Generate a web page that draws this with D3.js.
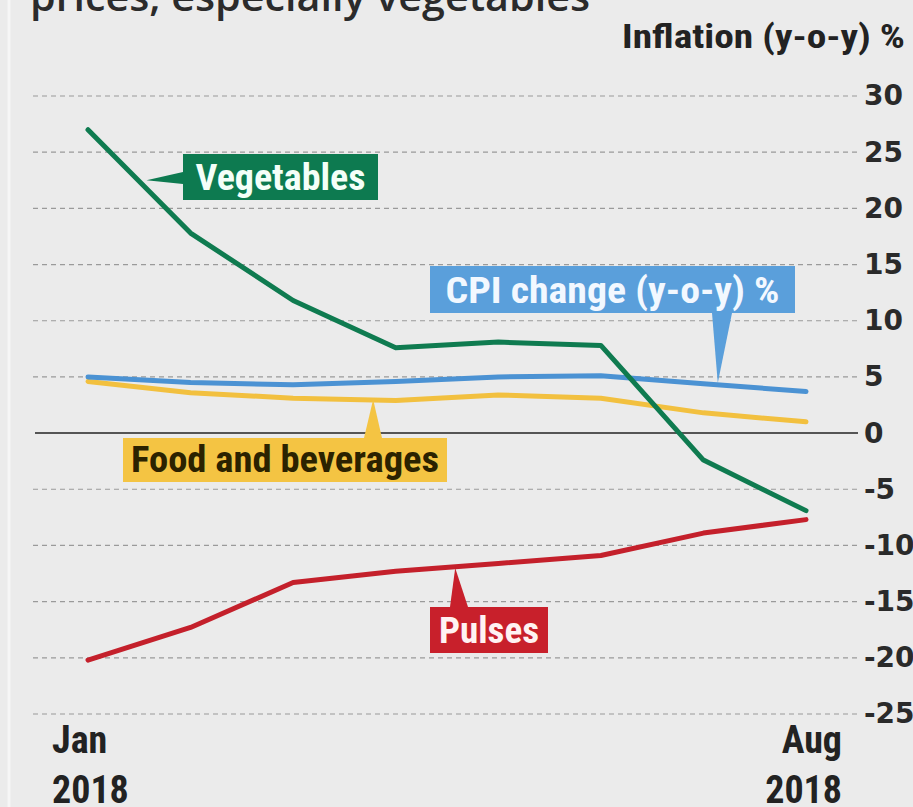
<!DOCTYPE html>
<html>
<head>
<meta charset="utf-8">
<script src="https://cdn.jsdelivr.net/npm/d3@7"></script>
<style>
  body { margin: 0; background: #ebebeb; }
  svg { display: block; }
  .cond { font-family: "Liberation Sans Narrow", "Roboto Condensed", "Liberation Sans", sans-serif; font-weight: bold; }
</style>
</head>
<body>
<div id="chart"></div>
<script>
var width = 913,
    height = 807;

// data
var months = ["Jan", "Feb", "Mar", "Apr", "May", "Jun", "Jul", "Aug"];
var vegetables = [27.0, 17.8, 11.8, 7.6, 8.1, 7.8, -2.4, -6.9];
var cpi = [5.0, 4.5, 4.3, 4.6, 5.0, 5.1, 4.4, 3.7];
var food = [4.6, 3.6, 3.1, 2.9, 3.4, 3.1, 1.8, 1.0];
var pulses = [-20.2, -17.3, -13.3, -12.3, -11.6, -10.9, -8.9, -7.7];
var yTicks = [30, 25, 20, 15, 10, 5, 0, -5, -10, -15, -20, -25];

var series = [
  {name: "Food and beverages", values: food, color: "#f2c03f"},
  {name: "CPI change (y-o-y) %", values: cpi, color: "#4b92d3"},
  {name: "Pulses", values: pulses, color: "#c4202b"},
  {name: "Vegetables", values: vegetables, color: "#0f7b50"}
];

var x = d3.scalePoint()
    .domain(months)
    .range([88, 806]);

var y = d3.scaleLinear()
    .domain([-25, 30])
    .range([714, 96]);

// fractional month position for annotation tips
function xi(i) { return x(months[0]) + i * x.step(); }

var svg = d3.select("#chart").append("svg")
    .attr("width", width)
    .attr("height", height);

svg.append("rect")
    .attr("width", width)
    .attr("height", height)
    .attr("fill", "#ebebeb");

svg.append("line")
    .attr("x1", 9).attr("x2", 9)
    .attr("y1", 0).attr("y2", height)
    .attr("stroke", "#f6f6f6")
    .attr("stroke-width", 3);

// cut-off title at the top
svg.append("text")
    .attr("x", 30)
    .attr("y", 11)
    .attr("textLength", 560)
    .attr("lengthAdjust", "spacingAndGlyphs")
    .attr("font-family", "'Open Sans', sans-serif")
    .attr("font-weight", 600)
    .attr("font-size", 40)
    .attr("fill", "#2b2b2b")
    .text("prices, especially vegetables");

svg.append("text")
    .attr("class", "cond")
    .attr("x", 622)
    .attr("y", 48)
    .attr("textLength", 283)
    .attr("lengthAdjust", "spacingAndGlyphs")
    .attr("font-size", 34)
    .attr("fill", "#222")
    .text("Inflation (y-o-y) %");

// grid
var grid = svg.append("g");
grid.selectAll("line")
    .data(yTicks.filter(function(d) { return d !== 0; }))
  .enter().append("line")
    .attr("x1", 33)
    .attr("x2", 858)
    .attr("y1", function(d) { return y(d); })
    .attr("y2", function(d) { return y(d); })
    .attr("stroke", "#9a9a9a")
    .attr("stroke-width", 1.2)
    .attr("stroke-dasharray", "5,4");

grid.append("line")
    .attr("x1", 35)
    .attr("x2", 858)
    .attr("y1", y(0))
    .attr("y2", y(0))
    .attr("stroke", "#555")
    .attr("stroke-width", 2);

// y axis on the right
var yAxis = svg.append("g")
    .attr("transform", "translate(862,0)")
    .call(d3.axisRight(y).tickValues(yTicks).tickSize(0).tickPadding(2)
      .tickFormat(function(d) { return String(d); }));
yAxis.select(".domain").remove();
yAxis.selectAll("text")
    .attr("font-family", "'DejaVu Sans', sans-serif")
    .attr("font-weight", "bold")
    .attr("font-size", 28)
    .attr("fill", "#2a2a2a");

// x labels
var xLabels = [
  {m: "Jan", anchor: "start", dx: -36},
  {m: "Aug", anchor: "end", dx: 36}
];
xLabels.forEach(function(d) {
  var t = svg.append("text")
      .attr("class", "cond")
      .attr("text-anchor", d.anchor)
      .attr("font-size", 38)
      .attr("fill", "#222");
  t.append("tspan").attr("x", x(d.m) + d.dx).attr("y", 753).text(d.m);
  t.append("tspan").attr("x", x(d.m) + d.dx).attr("y", 803).text("2018");
});

// lines
var line = d3.line()
    .x(function(d, i) { return x(months[i]); })
    .y(function(d) { return y(d); });

svg.append("g").selectAll("path")
    .data(series)
  .enter().append("path")
    .attr("fill", "none")
    .attr("stroke", function(d) { return d.color; })
    .attr("stroke-width", 5)
    .attr("stroke-linejoin", "round")
    .attr("stroke-linecap", "round")
    .attr("d", function(d) { return line(d.values); });

// annotation boxes
var notes = [
  {text: "Vegetables", color: "#0d7a50", ink: "#f4fff8", box: [183, 154, 195, 46], tipI: 0.57, tipV: 22.5, base: [[183, 172], [183, 184]], tl: 170},
  {text: "CPI change (y-o-y) %", color: "#5a9fdb", ink: "#f2f8ff", box: [430, 266, 365, 47], tipI: 6.14, tipV: 4.45, base: [[712, 313], [732, 313]], tl: 334},
  {text: "Food and beverages", color: "#f4c443", ink: "#2b2200", box: [123, 438, 324, 44], tipI: 2.78, tipV: 3.0, base: [[364, 438], [382, 438]], tl: 308},
  {text: "Pulses", color: "#c8202b", ink: "#fff2f2", box: [430, 607, 118, 46], tipI: 3.58, tipV: -12.0, base: [[450, 607], [468, 607]], tl: 100}
];

var note = svg.append("g").selectAll("g")
    .data(notes)
  .enter().append("g");

note.append("path")
    .attr("fill", function(d) { return d.color; })
    .attr("d", function(d) {
      return "M" + d.base[0] + "L" + [xi(d.tipI), y(d.tipV)] + "L" + d.base[1] + "Z";
    });

note.append("rect")
    .attr("x", function(d) { return d.box[0]; })
    .attr("y", function(d) { return d.box[1]; })
    .attr("width", function(d) { return d.box[2]; })
    .attr("height", function(d) { return d.box[3]; })
    .attr("fill", function(d) { return d.color; });

note.append("text")
    .attr("class", "cond")
    .attr("x", function(d) { return d.box[0] + (d.box[2] - d.tl) / 2; })
    .attr("y", function(d) { return d.box[1] + d.box[3] - 10; })
    .attr("textLength", function(d) { return d.tl; })
    .attr("lengthAdjust", "spacingAndGlyphs")
    .attr("font-size", 36)
    .attr("fill", function(d) { return d.ink; })
    .text(function(d) { return d.text; });
</script>
</body>
</html>
